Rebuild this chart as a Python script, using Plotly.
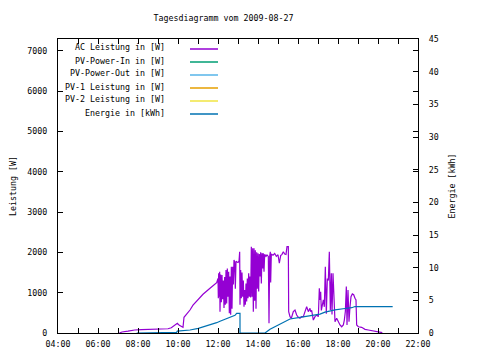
import plotly.graph_objects as go

DATE = "2009-08-27"

# AC Leistung in [W] (time, value)
ac_times = ["07:04","07:12","07:30","07:50","08:10","08:40","09:10","09:30","09:40","09:50","09:58","10:04","10:10","10:15","10:18","10:26","10:36","10:45","11:01","11:15","11:36","11:48","11:56","12:00",
            "12:01","12:02","12:04","12:05","12:06","12:08","12:10","12:12","12:14","12:16","12:18","12:20","12:22","12:24","12:26","12:28","12:30","12:32","12:34","12:36","12:38","12:40","12:42","12:44","12:46","12:48","12:50","12:52","12:54","12:57","13:00","13:03","13:05","13:06","13:08","13:10","13:12","13:14","13:16","13:18","13:20","13:22","13:24","13:26","13:28","13:30","13:32","13:34","13:36","13:38","13:40","13:42","13:44","13:46","13:48","13:50","13:52","13:54","13:56","13:58","14:00","14:02","14:04","14:06","14:08","14:10","14:12","14:14","14:16","14:18","14:20","14:24","14:27","14:31","14:33","14:35","14:37","14:38","14:40","14:45","14:50","14:55","15:00","15:04","15:08","15:12","15:16","15:20","15:24","15:27","15:31","15:32",
            "15:36","15:40","15:46","15:51","15:56","16:01","16:06","16:11","16:16","16:21","16:26","16:31","16:36","16:38","16:41","16:46","16:51","16:56","17:01","17:04","17:06","17:08","17:10","17:16","17:19","17:22","17:25","17:28","17:31","17:34","17:37","17:40","17:42","17:45","17:48","17:51","17:56","18:01","18:06","18:11","18:16","18:19","18:22","18:25","18:27","18:30","18:33","18:36","18:39","18:43","18:47","18:51","18:54","18:56","19:01","19:11","19:16","19:21","19:31","19:41","19:51","20:01","20:13"]
ac_values = [0,25,45,75,85,90,95,105,130,190,240,190,150,140,390,470,570,690,835,960,1110,1190,1250,1350,
             860,1480,900,1520,530,1450,760,1440,840,1300,620,1390,700,1560,730,1600,900,1520,490,1400,450,1645,600,1645,1200,1810,1760,1100,1780,1760,1750,1780,2015,700,1560,860,1500,900,1300,650,1065,700,1230,780,1350,860,1480,900,1400,880,2140,900,2100,530,2100,800,2050,600,2000,1100,1975,1030,1960,1400,2000,1230,1980,1600,1975,1520,1950,1900,1935,1900,240,1900,2015,1250,1960,1930,1970,1900,1940,1730,1920,1950,2015,1960,1950,2140,2140,530,
             405,365,530,570,445,390,365,405,405,530,650,530,610,530,560,320,405,445,405,1110,820,1025,560,820,650,1645,480,1350,1300,2015,570,1480,460,1480,820,280,365,280,200,155,200,320,530,1150,200,1065,280,650,900,970,950,860,820,200,155,140,115,90,75,60,35,25,8]

# Energie in [kWh]
en_times = ["07:56","09:56","09:58","10:36","11:01","11:36","11:56","12:06","12:21","12:51","12:56","13:06","13:06","14:21","14:36","15:06","15:21","15:36","16:06","16:36","17:06","17:21","17:51","18:21","18:41","18:51","20:44"]
en_values = [0.0,0.1,0.3,0.46,0.72,1.22,1.58,1.8,2.1,2.7,3.0,3.0,0.0,0.0,0.56,1.33,1.84,2.14,2.4,2.6,2.9,3.2,3.55,3.75,3.87,4.05,4.05]

series_names = ["AC Leistung in [W]", "PV-Power-In in [W]", "PV-Power-Out in [W]",
                "PV-1 Leistung in [W]", "PV-2 Leistung in [W]", "Energie in [kWh]"]
series_colors = ["#9400D3", "#009E73", "#56B4E9", "#E69F00", "#F0E442", "#0072B2"]

FONT = "DejaVu Sans Mono"
FS = 8.3

def ts(t):
    return f"{DATE} {t}"

fig = go.Figure()
fig.add_trace(go.Scatter(x=[ts(t) for t in ac_times], y=ac_values, mode="lines",
                         line=dict(color=series_colors[0], width=1.2), name=series_names[0],
                         showlegend=False))
# power series with no visible data
for i in range(1, 5):
    fig.add_trace(go.Scatter(x=[], y=[], mode="lines", line=dict(color=series_colors[i], width=1),
                             name=series_names[i], showlegend=False))
fig.add_trace(go.Scatter(x=[ts(t) for t in en_times], y=en_values, mode="lines", yaxis="y2",
                         line=dict(color=series_colors[5], width=1.2), name=series_names[5],
                         showlegend=False))

# page body has an 8px default margin; compensate so the plot lands where the reference has it
OFF = 8
W, H = 480 - OFF, 360 - OFF
L, R, T, B = 58 - OFF, 418 - OFF, 39 - OFF, 333 - OFF

# gnuplot-style legend: right-aligned text, sample line to the right
for i, (nm, col) in enumerate(zip(series_names, series_colors)):
    py = 49 - OFF + i * 13
    yp = (B - py) / (B - T)
    fig.add_annotation(xref="paper", yref="paper", x=(167 - OFF - L) / (R - L),
                       y=(B - py + 1.5) / (B - T),
                       text=nm, showarrow=False, xanchor="right", yanchor="middle",
                       font=dict(family=FONT, size=FS, color="black"))
    fig.add_shape(type="line", xref="paper", yref="paper",
                  x0=(190 - OFF - L) / (R - L), x1=(218 - OFF - L) / (R - L), y0=yp, y1=yp,
                  line=dict(color=col, width=1.5))

axis_common = dict(showline=True, linecolor="black", linewidth=1, ticks="inside",
                   tickcolor="black", showgrid=False, zeroline=False, automargin=False,
                   tickfont=dict(family=FONT, size=FS, color="black"))

fig.update_layout(
    width=W, height=H,
    margin=dict(l=L, r=W - R, t=T, b=H - B, pad=0, autoexpand=False),
    paper_bgcolor="white", plot_bgcolor="white",
    title=dict(text="Tagesdiagramm vom 2009-08-27", x=(223.5 - OFF) / W, xanchor="center",
               y=1 - (18.3 - OFF) / H, yanchor="middle", yref="container", automargin=False,
               font=dict(family=FONT, size=FS, color="black")),
    xaxis=dict(type="date", range=[ts("04:00"), ts("22:00")], dtick=7200000,
               tick0=ts("04:00"), tickformat="%H:%M", ticklen=5, mirror="allticks",
               ticklabelstandoff=3,
               minor=dict(dtick=3600000, ticks="inside", ticklen=3, tickcolor="black"),
               **axis_common),
    yaxis=dict(range=[0, 7290], dtick=1000, ticklen=5, mirror="allticks",
               title=dict(text="Leistung [W]", font=dict(family=FONT, size=FS, color="black"),
                          standoff=13),
               ticklabelstandoff=8, **axis_common),
    yaxis2=dict(range=[0, 45], dtick=5, ticklen=5, overlaying="y", side="right",
                title=dict(text="Energie [kWh]", font=dict(family=FONT, size=FS, color="black"),
                           standoff=11),
                ticklabelstandoff=8, **axis_common),
    showlegend=False,
)

fig.write_html("out.html")
